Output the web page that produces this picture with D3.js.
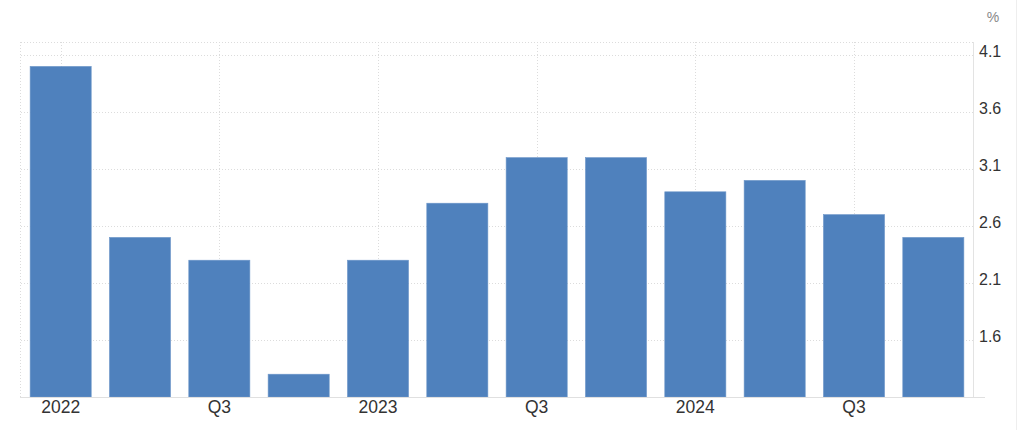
<!DOCTYPE html>
<html><head><meta charset="utf-8">
<script src="https://cdn.jsdelivr.net/npm/d3@7"></script>
<style>html,body{margin:0;padding:0;background:#fff;}svg{display:block;}</style>
</head><body>
<svg id="chart" width="1024" height="430"></svg>
<script>
const categories = ["2022 Q1","2022 Q2","2022 Q3","2022 Q4","2023 Q1","2023 Q2","2023 Q3","2023 Q4","2024 Q1","2024 Q2","2024 Q3","2024 Q4"];
const values = [4.0, 2.5, 2.3, 1.3, 2.3, 2.8, 3.2, 3.2, 2.9, 3.0, 2.7, 2.5];
const xTickLabels = {"2022 Q1":"2022","2022 Q3":"Q3","2023 Q1":"2023","2023 Q3":"Q3","2024 Q1":"2024","2024 Q3":"Q3"};
const yTicks = [1.6, 2.1, 2.6, 3.1, 3.6, 4.1];
const unit = "%";

(function () {
const svg = d3.select("#chart");
const pLeft = 21, pRight = 973, pTop = 42, pBottom = 397;

const x = d3.scaleBand().domain(categories).range([pLeft, pRight]).paddingInner(0.23).paddingOuter(0.115);
const y = d3.scaleLinear().domain([1.1, 4.2]).range([pBottom, 43.6]);

const grid = svg.append("g").attr("stroke", "#dcdcdc").attr("stroke-dasharray", "1,2").attr("stroke-width", 1);
grid.selectAll("line.h").data(yTicks).join("line")
  .attr("x1", pLeft).attr("x2", pRight)
  .attr("y1", d => Math.round(y(d)) + 0.5).attr("y2", d => Math.round(y(d)) + 0.5);
grid.append("line").attr("x1", pLeft).attr("x2", pRight).attr("y1", pTop + 0.5).attr("y2", pTop + 0.5);
grid.append("line").attr("x1", pLeft - 0.5).attr("x2", pLeft - 0.5).attr("y1", pTop).attr("y2", pBottom);
const labelled = categories.filter(c => xTickLabels[c]);
grid.selectAll("line.v").data(labelled).join("line")
  .attr("x1", d => Math.round(x(d) + x.bandwidth() / 2) + 0.5)
  .attr("x2", d => Math.round(x(d) + x.bandwidth() / 2) + 0.5)
  .attr("y1", pTop).attr("y2", pBottom);

svg.append("g").selectAll("rect").data(values).join("rect")
  .attr("x", (d, i) => x(categories[i]))
  .attr("width", x.bandwidth())
  .attr("y", d => y(d))
  .attr("height", d => y(1.1) - y(d))
  .attr("fill", "#4f81bd")
  .attr("stroke", "#6f97c9").attr("stroke-width", 0.6);

svg.append("line").attr("x1", pRight + 0.5).attr("x2", pRight + 0.5).attr("y1", pTop).attr("y2", pBottom)
  .attr("stroke", "#e3e3e3");
svg.append("line").attr("x1", pLeft - 1).attr("x2", 985).attr("y1", pBottom + 0.5).attr("y2", pBottom + 0.5)
  .attr("stroke", "#e0e0e0");
svg.append("line").attr("x1", 1016.5).attr("x2", 1016.5).attr("y1", 0).attr("y2", 430)
  .attr("stroke", "#eeeeee");

const yAxis = d3.axisRight(y).tickValues(yTicks).tickSize(0).tickPadding(0).tickFormat(d3.format(".1f"));
const ya = svg.append("g").attr("transform", "translate(979,0)").call(yAxis);
ya.select(".domain").remove();
ya.selectAll("text").attr("font-family", "Liberation Sans, Arial, sans-serif").attr("font-size", 16)
  .attr("fill", "#333").attr("dy", "0.1em");

const xAxis = d3.axisBottom(x).tickValues(labelled).tickSize(0).tickPadding(0).tickFormat(d => xTickLabels[d]);
const xa = svg.append("g").attr("transform", `translate(0,${pBottom + 4})`).call(xAxis);
xa.select(".domain").remove();
xa.selectAll("text").attr("font-family", "Liberation Sans, Arial, sans-serif").attr("font-size", 17.5)
  .attr("fill", "#333");

svg.append("text").attr("x", 993).attr("y", 22).attr("text-anchor", "middle")
  .attr("font-family", "Liberation Sans, Arial, sans-serif").attr("font-size", 14).attr("fill", "#888").text(unit);
})();
</script>
</body></html>
